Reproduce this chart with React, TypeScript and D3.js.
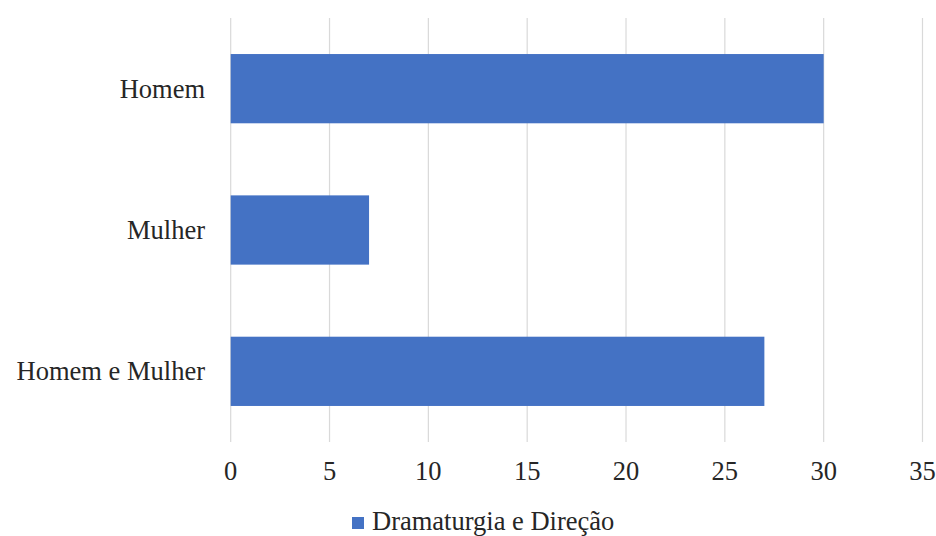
import React from "react";
import * as d3 from "d3";

const categories = ["Homem", "Mulher", "Homem e Mulher"];
const values = [30, 7, 27];
const seriesName = "Dramaturgia e Direção";
const xTicks = [0, 5, 10, 15, 20, 25, 30, 35];

const W = 936;
const H = 536;
const FONT = "Liberation Serif";
const TEXT = "#262626";
const BAR = "#4472C4";

export default function App() {
  const x = d3.scaleLinear().domain([0, 35]).range([230.7, 922.5]);
  const y = d3
    .scaleBand<string>()
    .domain(categories)
    .range([18, 442])
    .paddingInner(0.51)
    .paddingOuter(0.255);

  return (
    <svg
      width={W}
      height={H}
      style={{ position: "absolute", left: 0, top: 0, background: "#fff" }}
    >
      <rect width={W} height={H} fill="#fff" />
      {xTicks.map((t) => (
        <line
          key={"g" + t}
          x1={x(t)}
          x2={x(t)}
          y1={18}
          y2={442}
          stroke="#d9d9d9"
          strokeWidth={1.2}
        />
      ))}
      {categories.map((c, i) => (
        <rect
          key={c}
          x={x(0)}
          y={y(c)}
          width={x(values[i]) - x(0)}
          height={y.bandwidth()}
          fill={BAR}
        />
      ))}
      {categories.map((c) => (
        <text
          key={"l" + c}
          x={205}
          y={(y(c) as number) + y.bandwidth() / 2 + 9}
          textAnchor="end"
          fontFamily={FONT}
          fontSize={26.5}
          fill={TEXT}
        >
          {c}
        </text>
      ))}
      {xTicks.map((t) => (
        <text
          key={"t" + t}
          x={x(t)}
          y={480}
          textAnchor="middle"
          fontFamily={FONT}
          fontSize={26.5}
          fill={TEXT}
        >
          {t}
        </text>
      ))}
      <rect x={352} y={517} width={12} height={12} fill={BAR} />
      <text x={372} y={530} fontFamily={FONT} fontSize={26.5} fill={TEXT}>
        {seriesName}
      </text>
    </svg>
  );
}
